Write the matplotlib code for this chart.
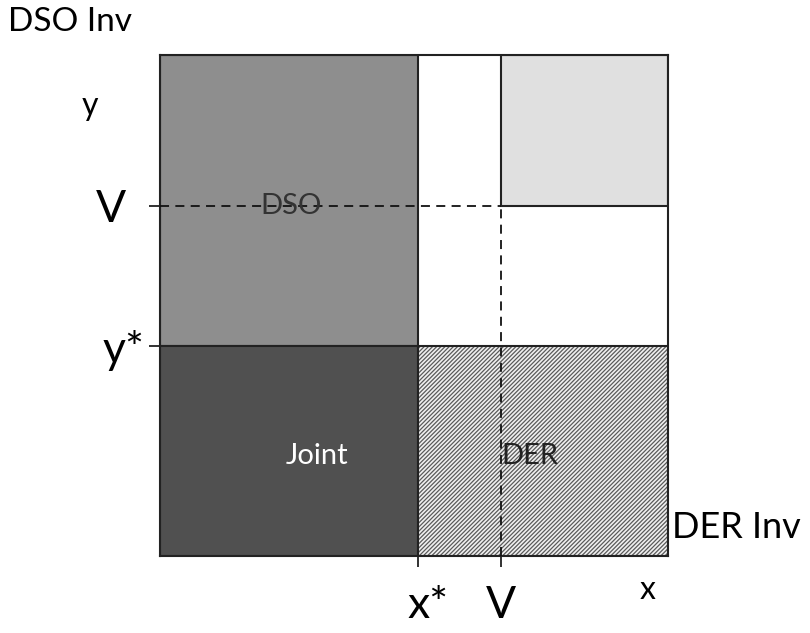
import matplotlib
matplotlib.use("Agg")
import matplotlib.pyplot as plt
import matplotlib.transforms as mtransforms
from matplotlib.patches import Rectangle

plt.rcParams['font.family'] = ['Lato', 'DejaVu Sans']
plt.rcParams['hatch.linewidth'] = 0.9

# Data (normalized positions of thresholds)
x_star = 0.508
x_V = 0.671
y_star = 0.419
y_V = 0.699

region_names = ["DSO", "Joint", "DER"]
x_tick_labels = ["x*", "V"]
y_tick_labels = ["y*", "V"]

W, H = 810, 633
fig = plt.figure(figsize=(W / 100, H / 100), dpi=100)
ax = fig.add_axes([160 / W, 1 - 556 / H, 508 / W, 501 / H])
ax.set_xlim(0, 1)
ax.set_ylim(0, 1)

# Regions
ax.add_patch(Rectangle((0, y_star), x_star, 1 - y_star, facecolor='#8e8e8e',
                       edgecolor='#222222', lw=1.5, zorder=1))
ax.add_patch(Rectangle((0, 0), x_star, y_star, facecolor='#505050',
                       edgecolor='#222222', lw=1.5, zorder=1))
ax.add_patch(Rectangle((x_star, 0), 1 - x_star, y_star, facecolor='#f0f0f0',
                       edgecolor='#5a5a5a', hatch='////////', lw=0, zorder=1))
ax.add_patch(Rectangle((x_star, 0), 1 - x_star, y_star, facecolor='none',
                       edgecolor='#222222', lw=1.5, zorder=2))
ax.add_patch(Rectangle((x_V, y_V), 1 - x_V, 1 - y_V, facecolor='#e0e0e0',
                       edgecolor='#222222', lw=1.5, zorder=1))

# Dashed guide lines
ax.plot([0, x_V], [y_V, y_V], color='#111111', lw=1.3, ls=(0, (5, 3.5)), zorder=3)
ax.plot([x_V, x_V], [0, y_V], color='#111111', lw=1.3, ls=(0, (5, 3.5)), zorder=3)

# Region labels
ax.text(0.258, y_V, region_names[0], fontsize=21, color='#333333',
        ha='center', va='center', zorder=4)
ax.text(0.31, 0.2, region_names[1], fontsize=21, color='white',
        ha='center', va='center', zorder=4)
ax.text(0.728, 0.2, region_names[2], fontsize=21, color='#222222',
        ha='center', va='center', zorder=4)

# Ticks
ax.set_xticks([x_star, x_V])
ax.set_xticklabels(x_tick_labels, fontsize=32)
ax.set_yticks([y_star, y_V])
ax.set_yticklabels(y_tick_labels, fontsize=32)
ax.tick_params(axis='both', direction='out', length=8, width=1.3, color='#222222')
ax.tick_params(axis='x', pad=13)
ax.tick_params(axis='y', pad=12)
for s in ax.spines.values():
    s.set_linewidth(1.5)
    s.set_color('#222222')

# small offsets on individual tick labels to match the reference layout
xl = ax.get_xticklabels()
xl[0].set_transform(xl[0].get_transform() +
                    mtransforms.ScaledTranslation(10 / 100, 0, fig.dpi_scale_trans))
yl = ax.get_yticklabels()
yl[0].set_transform(yl[0].get_transform() +
                    mtransforms.ScaledTranslation(12 / 100, 0, fig.dpi_scale_trans))
yl[1].set_transform(yl[1].get_transform() +
                    mtransforms.ScaledTranslation(-6 / 100, 0, fig.dpi_scale_trans))

# Axis annotations
fig.text(8 / W, 1 - 22 / H, "DSO Inv", fontsize=24, ha='left', va='center')
fig.text(90 / W, 1 - 106 / H, "y", fontsize=23, ha='center', va='center')
fig.text(672 / W, 1 - 527 / H, "DER Inv", fontsize=26, ha='left', va='center')
fig.text(648 / W, 1 - 590 / H, "x", fontsize=23, ha='center', va='center')

fig.savefig("out.png", dpi=100)
